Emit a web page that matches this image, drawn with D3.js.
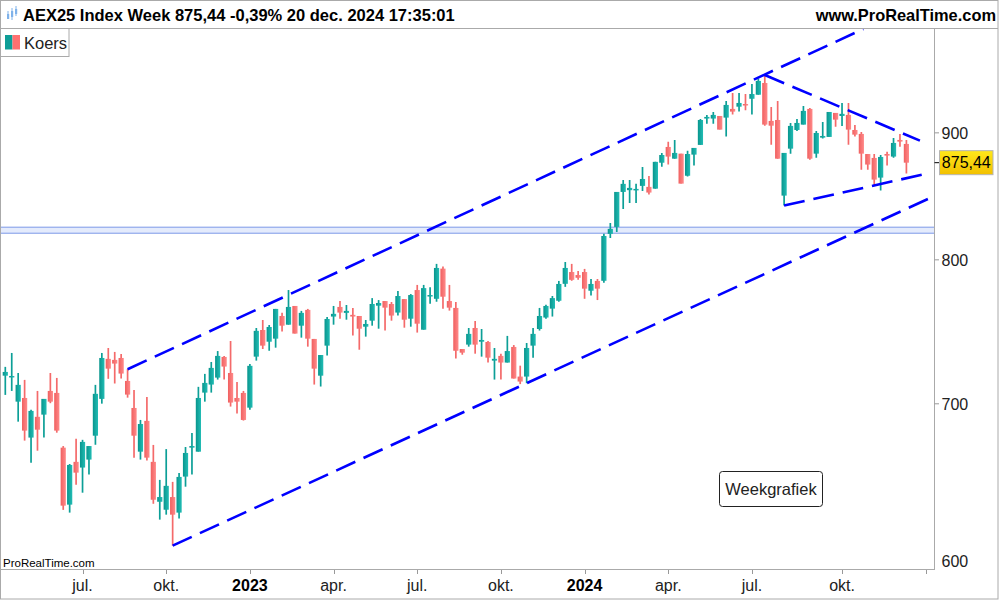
<!DOCTYPE html>
<html><head><meta charset="utf-8">
<script src="https://cdn.jsdelivr.net/npm/d3@7"></script>
<style>body{margin:0;background:#fff}svg{display:block;font-family:"Liberation Sans",Arial,Helvetica,sans-serif}</style>
</head><body><svg id="c" width="1000" height="600"></svg>
<script>
// ---- data (weekly candles, AEX25, first bar = week of 11 apr 2022) ----
const open=[718.5,717.5,701.4,703.8,678.4,691.6,693.0,708.4,707.1,672.1,
637.5,663.3,659.8,664.7,679.6,703.2,729.8,729.1,730.4,715.0,
697.3,669.6,689.0,663.3,639.2,634.5,642.0,632.8,654.3,672.1,
669.6,707.3,712.6,717.2,731.1,720.3,703.8,707.1,697.5,731.3,
749.6,741.5,743.6,759.4,753.3,766.5,752.6,763.7,743.4,718.5,
738.8,759.0,765.8,761.6,760.2,759.4,751.9,756.1,766.7,770.0,
767.9,761.8,771.4,757.5,777.9,749.8,773.8,771.6,793.5,770.0,
765.1,736.5,739.5,751.0,741.5,741.3,728.6,731.8,727.3,737.9,
717.9,717.9,738.8,750.3,758.3,764.6,770.2,782.4,791.0,788.8,
791.0,777.4,784.5,784.6,819.5,824.8,852.0,853.4,853.4,856.8,
856.0,854.6,875.4,888.3,878.7,882.8,864.9,882.0,890.0,912.0,
912.0,914.2,912.8,920.2,922.1,924.4,928.9,932.4,942.6,910.0,
910.8,849.1,886.9,902.4,906.9,920.2,882.8,896.0,896.6,916.8,
914.2,915.1,902.4,899.1,882.5,879.3,863.4,882.5,880.4,894.1,
890.8];
const high=[724.4,733.8,720.3,715.7,696.1,708.4,703.2,720.3,717.0,673.1,
662.0,677.6,677.0,673.1,712.4,733.8,737.2,734.5,733.1,723.0,
709.1,689.6,704.5,673.8,652.3,671.2,651.1,656.5,672.5,681.3,
711.1,719.7,727.7,735.1,731.8,742.0,714.3,708.4,726.4,751.0,
756.6,753.1,764.4,761.6,777.9,766.5,763.0,764.4,743.4,732.4,
758.7,766.5,770.0,767.2,765.1,759.4,756.6,772.1,770.7,770.0,
769.3,777.2,771.4,775.0,781.6,781.6,780.0,797.0,795.0,781.6,
769.3,736.5,751.0,755.9,750.3,742.0,737.2,733.3,745.5,739.2,
725.2,740.6,751.0,765.1,767.4,773.6,784.5,798.4,797.0,791.8,
793.3,785.9,785.9,819.5,827.9,852.0,861.5,861.5,858.4,872.0,
864.7,876.1,883.4,892.5,894.1,882.8,885.2,887.5,911.7,915.1,
917.6,914.2,926.9,933.9,933.9,933.0,941.7,946.1,948.7,921.8,
926.9,883.4,908.3,911.7,922.7,921.0,901.6,909.1,917.6,916.8,
925.3,925.3,906.6,900.8,882.5,882.5,881.7,884.4,895.7,899.1,
894.1];
const low=[705.8,708.4,688.5,676.5,662.8,670.2,678.4,700.4,681.5,634.4,
632.8,649.4,644.6,655.5,673.9,700.1,716.4,713.3,716.6,704.0,
665.9,664.7,664.1,638.0,628.7,631.6,613.7,629.3,648.2,655.5,
669.6,701.4,707.3,715.9,715.9,698.2,693.7,689.2,696.1,728.6,
736.5,735.3,737.4,748.5,753.3,747.1,744.3,738.1,712.6,711.3,
732.0,753.3,757.5,756.8,745.7,736.0,745.0,752.6,750.5,749.2,
756.1,759.7,751.2,751.9,747.8,749.8,768.1,769.5,764.6,763.2,
730.0,732.6,738.1,733.3,731.3,727.3,715.9,715.9,727.3,716.6,
712.9,713.5,730.6,749.2,757.5,759.0,769.5,780.2,784.6,785.3,
771.6,774.0,770.7,783.2,816.4,821.0,838.7,843.4,843.4,852.8,
849.9,854.6,872.2,873.9,878.7,858.6,864.2,873.1,890.0,907.7,
907.7,902.7,896.9,915.4,917.9,919.1,915.4,932.4,906.0,890.2,
878.7,841.3,882.8,901.6,906.9,877.9,879.5,895.2,896.6,905.2,
905.8,890.2,896.9,869.8,869.8,857.1,853.1,873.1,879.5,888.5,
866.6];
const close=[721.0,718.3,712.4,682.8,695.4,683.4,703.2,701.4,682.8,636.9,
661.4,656.7,675.7,673.1,706.5,730.4,723.2,726.6,719.9,706.0,
679.6,687.0,665.9,640.4,642.0,648.7,631.6,654.1,668.8,673.1,
703.8,713.7,723.7,731.8,724.6,700.8,701.4,689.6,725.1,749.0,
738.8,751.7,764.4,752.6,765.8,747.1,761.6,743.6,723.2,732.4,
757.3,760.9,761.8,763.0,759.0,750.5,753.8,767.9,768.6,765.3,
759.7,773.6,756.8,774.3,754.0,779.3,774.3,794.0,773.1,765.3,
735.3,734.0,746.9,739.5,742.7,730.6,729.8,727.3,735.1,716.6,
714.6,737.2,746.9,759.4,766.5,772.1,782.3,794.0,785.3,786.8,
778.9,782.3,778.9,817.9,823.3,852.0,858.4,855.2,854.4,862.3,
851.5,876.1,881.7,880.4,883.4,858.6,882.5,887.5,910.8,913.4,
915.1,902.7,923.6,917.9,925.3,923.3,933.0,944.4,906.9,906.0,
878.7,883.4,905.8,908.3,918.5,878.7,899.9,897.4,917.6,911.1,
916.0,902.7,898.5,882.8,873.9,861.8,880.1,881.2,891.6,892.7,
875.44];

// x ticks: bar index of first weekly bar of each quarter
const xTickIdx=[12,25,38,51,64,77,90,103,116,130,143];
const xTickLabels=["jul.","okt.","2023","apr.","jul.","okt.","2024","apr.","jul.","okt.",""];
const yTicks=[600,700,800,900];
const lastPrice=875.44;
const lastPriceLabel="875,44";
// trend lines as [barIndex, price] pairs
const trendLines=[
  [[19,722.8],[133.3,991]],
  [[26,613.7],[143.7,847.3]],
  [[118,949.6],[142.1,893.5]],
  [[121,841.3],[142.6,865.9]]
];
const zoneBand=[820.0,824.6];
const titleText="AEX25 Index Week 875,44 -0,39% 20 dec. 2024 17:35:01";

// ---- drawing ----
const svg=d3.select("#c");
const plotL=0, plotR=934.5, plotT=29, plotB=570;
const x=d3.scaleLinear().domain([0,140]).range([5.3,906.4]);
const y=d3.scaleLog().domain([600,991]).range([plotB,plotT]);

const defs=svg.append("defs");
function grad(id,c1,c2,vertical){
  const g=defs.append("linearGradient").attr("id",id)
    .attr("x1","0").attr("y1","0").attr("x2",vertical?"0":"1").attr("y2",vertical?"1":"0");
  g.append("stop").attr("offset","0").attr("stop-color",c1);
  g.append("stop").attr("offset","1").attr("stop-color",c2);
}
grad("gUp","#08958d","#22bdb5");
grad("gDn","#f06060","#ff8a8a");
grad("gYel","#ffe81a","#f2c000",true);
defs.append("clipPath").attr("id","clipPlot").append("rect")
  .attr("x",plotL).attr("y",plotT).attr("width",plotR-plotL).attr("height",plotB-plotT);

svg.append("rect").attr("width",1000).attr("height",600).attr("fill","#fff");

const plot=svg.append("g").attr("clip-path","url(#clipPlot)");

// zone band
plot.append("rect").attr("x",plotL).attr("width",plotR-plotL)
  .attr("y",y(zoneBand[1])).attr("height",y(zoneBand[0])-y(zoneBand[1]))
  .attr("fill","#e4ebfc").attr("stroke","#7d99e8").attr("stroke-width",1);

// candles
const idx=d3.range(close.length);
const upC="#0c9f97", dnC="#f46a6a";
plot.append("g").selectAll("line").data(idx).join("line")
  .attr("x1",i=>x(i)).attr("x2",i=>x(i))
  .attr("y1",i=>y(high[i])).attr("y2",i=>y(low[i]))
  .attr("stroke",i=>close[i]>=open[i]?upC:dnC).attr("stroke-width",1.7);
plot.append("g").selectAll("rect").data(idx).join("rect")
  .attr("x",i=>x(i)-2.6).attr("width",5.2)
  .attr("y",i=>y(Math.max(open[i],close[i])))
  .attr("height",i=>Math.max(1.5,Math.abs(y(open[i])-y(close[i]))))
  .attr("fill",i=>close[i]>=open[i]?"url(#gUp)":"url(#gDn)");

// trend lines
plot.append("g").selectAll("line").data(trendLines).join("line")
  .attr("x1",d=>x(d[0][0])).attr("y1",d=>y(d[0][1]))
  .attr("x2",d=>x(d[1][0])).attr("y2",d=>y(d[1][1]))
  .attr("stroke","#0000ff").attr("stroke-width",2.6)
  .attr("stroke-dasharray","21,9");

// frame
const gray="#aaaaaa";
svg.append("rect").attr("x",0.5).attr("y",0.5).attr("width",997.5).attr("height",598.5)
  .attr("fill","none").attr("stroke",gray);
svg.append("line").attr("x1",0).attr("x2",998).attr("y1",28.5).attr("y2",28.5).attr("stroke",gray);
svg.append("line").attr("x1",plotR).attr("x2",plotR).attr("y1",28.5).attr("y2",plotB).attr("stroke",gray);
svg.append("line").attr("x1",0).attr("x2",plotR).attr("y1",plotB-0.5).attr("y2",plotB-0.5).attr("stroke",gray);

// header
const icon=svg.append("g").attr("fill","#7fb2ea").attr("stroke","#7fb2ea");
[[7,14,19,11,16],[11,11,17,8,20],[15,9,14,6,16]].forEach(c=>{
  icon.append("line").attr("x1",c[0]+1).attr("x2",c[0]+1).attr("y1",c[3]).attr("y2",c[4]).attr("stroke-width",1);
  icon.append("rect").attr("x",c[0]).attr("y",c[1]).attr("width",2.2).attr("height",c[2]-c[1]).attr("stroke","none");
});
svg.append("text").attr("x",23).attr("y",20.5).attr("font-size",16.5).attr("font-weight","bold")
  .attr("fill","#000").text(titleText);
svg.append("text").attr("x",996).attr("y",20.5).attr("font-size",16.4).attr("font-weight","bold")
  .attr("text-anchor","end").attr("fill","#000").text("www.ProRealTime.com");

// legend
svg.append("rect").attr("x",0.5).attr("y",28.5).attr("width",68.5).attr("height",28)
  .attr("fill","#fff").attr("stroke",gray);
svg.append("rect").attr("x",5).attr("y",35).attr("width",7.5).attr("height",14.5).attr("fill","#0e9e97");
svg.append("rect").attr("x",12.5).attr("y",35).attr("width",7.5).attr("height",14.5).attr("fill","#ff7070");
svg.append("text").attr("x",24).attr("y",48.5).attr("font-size",16.5).attr("fill","#222").text("Koers");

// y axis (right)
const yAx=svg.append("g");
yTicks.forEach(v=>{
  const yy=y(v);
  if(yy<plotB-1) yAx.append("line").attr("x1",plotR).attr("x2",plotR+4.5).attr("y1",yy).attr("y2",yy).attr("stroke","#999");
  yAx.append("text").attr("x",941.5).attr("y",Math.min(yy,561)).attr("dy","0.36em")
    .attr("font-size",16).attr("fill","#222").text(v);
});
const yl=y(lastPrice);
yAx.append("line").attr("x1",plotR).attr("x2",plotR+5).attr("y1",yl).attr("y2",yl).attr("stroke","#000");
yAx.append("rect").attr("x",939.5).attr("y",yl-12).attr("width",53.5).attr("height",24)
  .attr("fill","url(#gYel)").attr("stroke","#b5b5b5");
yAx.append("text").attr("x",966.3).attr("y",yl).attr("dy","0.36em").attr("text-anchor","middle")
  .attr("font-size",16).attr("fill","#000").text(lastPriceLabel);

// x axis (bottom)
const xAx=svg.append("g");
xTickIdx.forEach((t,k)=>{
  const xx=Math.round(x(t))+0.5;
  xAx.append("line").attr("x1",xx).attr("x2",xx).attr("y1",plotB).attr("y2",plotB+4).attr("stroke","#999");
  const lab=xTickLabels[k];
  if(lab) xAx.append("text").attr("x",x(t)).attr("y",590.5).attr("text-anchor","middle")
    .attr("font-size",16).attr("font-weight",/^\d{4}$/.test(lab)?"bold":"normal")
    .attr("fill",/^\d{4}$/.test(lab)?"#000":"#222").text(lab);
});

// annotations
svg.append("text").attr("x",3).attr("y",567).attr("font-size",11.5).attr("fill","#000").text("ProRealTime.com");
svg.append("rect").attr("x",719.5).attr("y",471.5).attr("width",103).attr("height",35).attr("rx",3)
  .attr("fill","#fff").attr("stroke","#222");
svg.append("text").attr("x",771).attr("y",489).attr("dy","0.36em").attr("text-anchor","middle")
  .attr("font-size",16.5).attr("fill","#222").text("Weekgrafiek");
</script></body></html>
